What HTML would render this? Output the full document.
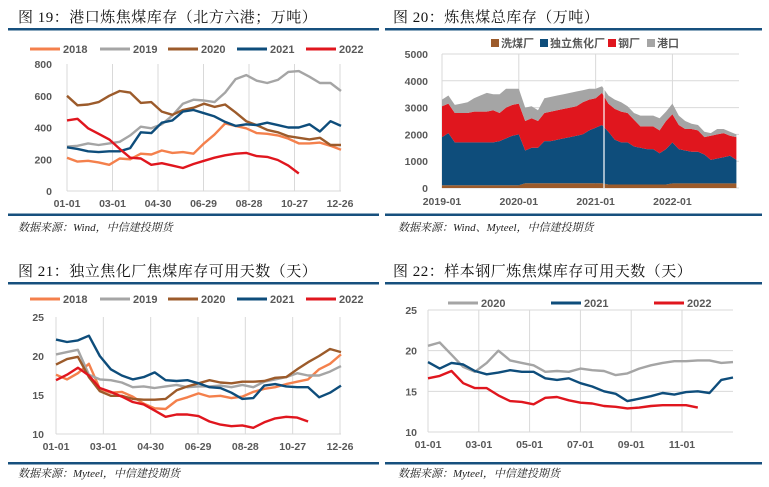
<!DOCTYPE html>
<html><head><meta charset="utf-8">
<style>
html,body{margin:0;padding:0;background:#fff;}
svg{display:block;}
.ttl{font-family:"Liberation Serif","Noto Serif CJK SC",serif;font-size:15px;fill:#111;letter-spacing:0.5px;}
.tk{font-family:"Liberation Sans",sans-serif;font-size:10.5px;font-weight:bold;fill:#595959;}
.lg{font-family:"Liberation Sans","Noto Sans CJK SC",sans-serif;font-size:11px;font-weight:bold;fill:#595959;}
.src{font-family:"Liberation Serif","Noto Serif CJK SC",serif;font-size:11px;font-style:italic;fill:#222;}
</style></head><body>
<svg id="root" width="769" height="487" viewBox="0 0 769 487" xmlns="http://www.w3.org/2000/svg">
<text class="ttl" x="18" y="22">图 19：港口炼焦煤库存（北方六港；万吨）</text>
<rect x="8" y="28" width="371" height="2.5" fill="#17507e"/>
<rect x="8" y="213.5" width="371" height="2.5" fill="#17507e"/>
<text class="src" x="18" y="231">数据来源：Wind，中信建投期货</text>

<text class="ttl" x="393" y="22">图 20：炼焦煤总库存（万吨）</text>
<rect x="385" y="28" width="377" height="2.5" fill="#17507e"/>
<rect x="385" y="213.5" width="377" height="2.5" fill="#17507e"/>
<text class="src" x="398" y="231">数据来源：Wind、Myteel，中信建投期货</text>

<text class="ttl" x="18" y="276">图 21：独立焦化厂焦煤库存可用天数（天）</text>
<rect x="8" y="282" width="371" height="2.5" fill="#17507e"/>
<rect x="8" y="462" width="371" height="2.5" fill="#17507e"/>
<text class="src" x="18" y="477">数据来源：Myteel，中信建投期货</text>

<text class="ttl" x="393" y="276">图 22：样本钢厂炼焦煤库存可用天数（天）</text>
<rect x="385" y="282" width="377" height="2.5" fill="#17507e"/>
<rect x="385" y="462" width="377" height="2.5" fill="#17507e"/>
<text class="src" x="398" y="477">数据来源：Myteel，中信建投期货</text>
</svg>
<script>
// ---------- Fig 19 data ----------
const f19Ticks = ["01-01","03-01","04-30","06-29","08-28","10-27","12-26"];
const f19YTicks = [0,200,400,600,800];
const f19Years = ["2018","2019","2020","2021","2022"];
const f19_2018 = [210,185,190,180,165,205,200,235,230,255,240,245,235,300,355,425,410,395,365,360,350,330,300,300,305,285,260];
const f19_2019 = [280,285,300,290,300,310,350,405,395,420,475,550,575,570,560,620,705,730,695,680,700,750,755,720,680,680,630];
const f19_2020 = [600,540,545,560,600,630,620,555,560,500,480,510,525,550,530,545,495,440,415,385,370,345,335,325,335,290,290];
const f19_2021 = [275,265,250,245,250,250,270,370,365,430,445,500,510,490,470,435,410,420,415,430,415,400,400,420,375,440,410];
const f19_2022 = [445,455,395,360,325,265,210,205,165,175,160,145,170,190,210,225,235,240,220,215,195,160,110];
// ---------- Fig 20 data ----------
const f20Ticks = ["2019-01","2020-01","2021-01","2022-01"];
const f20YTicks = [0,1000,2000,3000,4000,5000];
const f20Layers = ["洗煤厂","独立焦化厂","钢厂","港口"];
const f20Wash = [100,100,100,100,100,100,100,100,100,100,100,100,100,180,180,180,180,180,180,180,180,180,180,180,180,180,130,130,130,130,130,130,130,130,130,130,170,170,170,170,170,170,170,170,170,170,170];
const f20Coke = [1800,1950,1600,1600,1600,1600,1600,1600,1600,1650,1750,1850,1900,1220,1320,1320,1570,1570,1620,1670,1720,1770,1820,1970,2070,2170,1970,1670,1570,1570,1420,1370,1320,1320,1170,1320,1530,1280,1230,1180,1180,1080,880,930,980,1030,880];
const f20Steel = [1150,1100,1100,1100,1100,1150,1150,1150,1200,1050,1150,1150,1150,1100,1100,1000,1050,1100,1100,1100,1100,1100,1200,1150,1100,1200,1050,1150,1150,1100,1000,800,850,850,850,1050,1050,900,800,850,800,650,900,900,900,750,850];
const f20Port = [250,300,300,350,400,500,600,700,600,700,700,600,550,500,450,400,550,550,550,550,550,550,450,400,350,250,300,350,350,250,250,400,400,400,450,350,400,350,300,200,200,200,100,200,150,150,100];
// ---------- Fig 21 data ----------
const f21Ticks = ["01-01","03-01","04-30","06-29","08-28","10-27","12-26"];
const f21YTicks = [10,15,20,25];
const f21_2018 = [17.6,17.0,17.8,19.0,15.8,15.3,15.4,14.8,13.9,13.3,13.2,14.3,14.7,15.2,14.8,14.9,14.6,14.8,15.4,15.8,16.0,16.4,16.7,17.0,18.3,19.0,20.2];
const f21_2019 = [20.2,20.5,20.8,17.6,17.0,16.9,16.6,16.0,16.1,15.9,16.1,16.3,16.0,16.1,16.1,16.2,16.0,16.3,16.0,16.7,17.0,17.3,17.8,17.5,17.5,18.0,18.7];
const f21_2020 = [18.9,19.6,19.9,17.3,15.5,14.9,14.9,14.5,14.4,14.4,14.5,15.6,16.1,16.5,16.9,16.6,16.5,16.7,16.7,16.8,17.2,17.3,18.3,19.2,20.0,20.9,20.5];
const f21_2021 = [22.1,21.8,22.0,22.6,20.0,18.3,17.5,17.0,17.3,17.9,16.9,16.8,16.9,16.5,16.0,15.9,15.3,14.5,14.6,16.2,16.4,16.1,16.0,16.0,14.7,15.3,16.2];
const f21_2022 = [16.9,17.6,18.5,17.5,15.9,15.4,14.8,14.1,13.8,13.0,12.2,12.5,12.5,12.3,11.6,11.2,11.0,11.1,10.8,11.5,12.0,12.2,12.1,11.6];
// ---------- Fig 22 data ----------
const f22Ticks = ["01-01","03-01","05-01","07-01","09-01","11-01"];
const f22YTicks = [10,15,20,25];
const f22Years = ["2020","2021","2022"];
const f22_2020 = [20.6,21.0,19.5,18.0,17.4,18.5,20.0,18.8,18.5,18.2,17.4,17.5,17.4,17.8,17.6,17.5,17.0,17.2,17.8,18.2,18.5,18.7,18.7,18.8,18.8,18.5,18.6];
const f22_2021 = [18.6,17.8,18.5,18.3,17.5,17.1,17.3,17.6,17.4,17.4,16.6,16.4,16.6,16.0,15.6,15.0,14.7,13.8,14.1,14.4,14.8,14.6,14.9,15.0,14.8,16.4,16.7];
const f22_2022 = [16.6,16.9,17.5,16.0,15.4,15.4,14.5,13.8,13.7,13.4,14.2,14.3,13.9,13.6,13.5,13.2,13.1,12.9,13.0,13.2,13.3,13.3,13.3,13.0];

const NS = "http://www.w3.org/2000/svg";
const root = document.getElementById("root");
function mk(tag, attrs, parent){
  const e = document.createElementNS(NS, tag);
  for (const k in attrs) e.setAttribute(k, attrs[k]);
  (parent||root).appendChild(e);
  return e;
}
function lin(d0,d1,r0,r1){ return v => r0 + (v-d0)*(r1-r0)/(d1-d0); }
const COL = {"2018":"#F4804C","2019":"#A5A5A5","2020":"#9C5B2B","2021":"#0E4D7B","2022":"#E0161E"};

function lineChart(cfg){
  const col = cfg.colors || COL;
  const g = mk("g",{});
  
  
  const x = lin(0, cfg.n-1, cfg.x0, cfg.x1);
  const y = lin(cfg.ymin, cfg.ymax, cfg.yb, cfg.yt);
  cfg.xTicks.forEach((t,i)=>{
    const gx = cfg.xtx(i);
    const l = mk("line",{x1:gx,x2:gx,y1:cfg.yt,y2:cfg.yb,stroke:"#d9d9d9","stroke-width":1},g);
    
    
    const tx = mk("text",{x:gx,y:cfg.yb+16,"text-anchor":"middle",class:"tk"},g);
    tx.textContent = t;
    
    
  });
  cfg.yTicks.forEach(v=>{
    if (cfg.hgrid){
      const l = mk("line",{x1:cfg.x0,x2:cfg.gx1,y1:y(v),y2:y(v),stroke:"#d9d9d9","stroke-width":1},g);
      
      
    }
    const tx = mk("text",{x:cfg.ylx,y:y(v)+4,"text-anchor":"end",class:"tk"},g);
    tx.textContent = v;
    
    
  });
  const ax = mk("line",{x1:cfg.x0,x2:cfg.gx1,y1:cfg.yb,y2:cfg.yb,stroke:"#d9d9d9","stroke-width":1},g);
  
  
  cfg.series.forEach(s=>{
    const p = s.vals.map((v,i)=>(i?"L":"M")+x(i).toFixed(1)+","+y(v).toFixed(1)).join("");
    const pe = mk("path",{d:p,fill:"none",stroke:col[s.year],"stroke-width":2.4,"stroke-linejoin":"round"},g);
    
    
  });
  cfg.legend.forEach(L=>{
    const l = mk("line",{x1:L.x,x2:L.x+30,y1:cfg.ly,y2:cfg.ly,stroke:col[L.year],"stroke-width":3},g);
    
    
    const t = mk("text",{x:L.x+33,y:cfg.ly+4,class:"lg"},g);
    t.textContent = L.year;
    
    
  });
}

lineChart({name:"fig19-port-inventory-chart", n:27, x0:67, x1:341, gx1:341, yb:191, yt:64, ymin:0, ymax:800,
  xTicks:f19Ticks, xtx:i=>lin(0,6,67,340)(i), yTicks:f19YTicks, hgrid:false, ylx:52, ly:49,
  series:[{year:"2018",vals:f19_2018},{year:"2019",vals:f19_2019},{year:"2020",vals:f19_2020},{year:"2021",vals:f19_2021},{year:"2022",vals:f19_2022}],
  legend:[{year:"2018",x:30},{year:"2019",x:100},{year:"2020",x:168},{year:"2021",x:237},{year:"2022",x:306}]});
lineChart({name:"fig21-coking-plant-days-chart", n:27, x0:56, x1:341, gx1:341, yb:434, yt:317, ymin:10, ymax:25,
  xTicks:f21Ticks, xtx:i=>lin(0,6,56,340)(i), yTicks:f21YTicks, hgrid:false, ylx:44, ly:299,
  series:[{year:"2018",vals:f21_2018},{year:"2019",vals:f21_2019},{year:"2020",vals:f21_2020},{year:"2021",vals:f21_2021},{year:"2022",vals:f21_2022}],
  legend:[{year:"2018",x:30},{year:"2019",x:100},{year:"2020",x:168},{year:"2021",x:237},{year:"2022",x:306}]});
lineChart({name:"fig22-steel-mill-days-chart", n:27, x0:428, x1:733, gx1:733, yb:432, yt:310, ymin:10, ymax:25,
  colors:{"2020":"#A5A5A5","2021":"#0E4D7B","2022":"#E0161E"},
  xTicks:f22Ticks, xtx:i=>lin(0,10,428,682)(i*2), yTicks:f22YTicks, hgrid:true, ylx:417, ly:303,
  series:[{year:"2020",vals:f22_2020},{year:"2021",vals:f22_2021},{year:"2022",vals:f22_2022}],
  legend:[{year:"2020",x:448},{year:"2021",x:551},{year:"2022",x:654}]});

(function(){
  const g = mk("g",{});
  
  
  const n = f20Wash.length;
  const x = lin(0, 46.4, 442, 739);
  const y = lin(0, 5000, 188, 54);
  f20YTicks.forEach(v=>{
    const l = mk("line",{x1:442,x2:739,y1:y(v),y2:y(v),stroke:"#d9d9d9","stroke-width":1},g);
    
    
    const t = mk("text",{x:428,y:y(v)+4,"text-anchor":"end",class:"tk"},g);
    t.textContent = v;
    
    
  });
  f20Ticks.forEach((t,i)=>{
    const gx = x(i*12);
    const l = mk("line",{x1:gx,x2:gx,y1:54,y2:188,stroke:"#d9d9d9","stroke-width":1},g);
    
    
    const tx = mk("text",{x:gx,y:205,"text-anchor":"middle",class:"tk"},g);
    tx.textContent = t;
    
    
  });
  const layers = [f20Wash,f20Coke,f20Steel,f20Port];
  const cols = ["#9C5B2B","#0E4D7B","#E0161E","#A5A5A5"];
  const names = ["area-wash-plant","area-coking-plant","area-steel-mill","area-port"];
  const base = new Array(n).fill(0);
  layers.forEach((arr,k)=>{
    const top = base.map((b,i)=>b+arr[i]);
    let d = "";
    for (let i=0;i<n;i++) d += (i?"L":"M")+x(i).toFixed(1)+","+y(top[i]).toFixed(1);
    for (let i=n-1;i>=0;i--) d += "L"+x(i).toFixed(1)+","+y(base[i]).toFixed(1);
    const p = mk("path",{d:d+"Z",fill:cols[k]},g);
    
    
    for (let i=0;i<n;i++) base[i]=top[i];
  });
  const gap = mk("line",{x1:604,x2:604,y1:60,y2:188,stroke:"#fff","stroke-width":1.2},g);
  
  
  const lx = [491,540,608,647];
  f20Layers.forEach((nm,k)=>{
    const r = mk("rect",{x:lx[k],y:39,width:8,height:8,fill:cols[k]},g);
    
    
    const t = mk("text",{x:lx[k]+10,y:47,class:"lg"},g);
    t.textContent = nm;
    
    
  });
})();
</script>
</body></html>
